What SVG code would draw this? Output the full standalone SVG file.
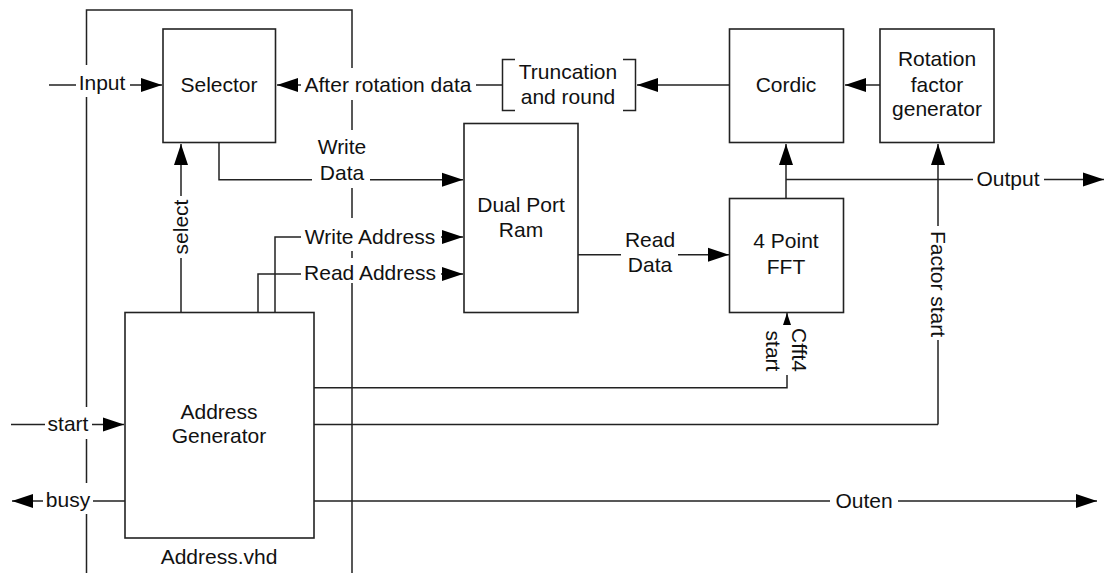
<svg xmlns="http://www.w3.org/2000/svg" width="1104" height="573" viewBox="0 0 1104 573">
<style>
text{font-family:"Liberation Sans",Arial,sans-serif;font-size:21px;fill:#111;text-anchor:middle}
.l{fill:none;stroke:#222;stroke-width:1.5}
.b{fill:#fff;stroke:#222;stroke-width:1.6}
.a{marker-end:url(#ah)}
</style>
<defs>
<marker id="ah" markerUnits="userSpaceOnUse" markerWidth="22" markerHeight="16" refX="21" refY="8" orient="auto"><path d="M0 1 L21 8 L0 15Z" fill="#000"/></marker>
<marker id="as" markerUnits="userSpaceOnUse" markerWidth="13" markerHeight="10" refX="12" refY="5" orient="auto"><path d="M0 1 L12 5 L0 9Z" fill="#000"/></marker>
</defs>
<rect width="1104" height="573" fill="#fff"/>
<g id="frame" class="l"><path d="M86.500 65V10H352V68M352 100V130M352 188V218M352 251V258M352 283V573M86.500 97V407M86.500 439V483M86.500 514V573"/></g>
<g id="connectors" class="l">
<path d="M49 85H76M130 85H162" class="a"/>
<path d="M502 85H476M301 85H277" class="a"/>
<path d="M730 85H637" class="a"/>
<path d="M880 85H845" class="a"/>
<path d="M219 142.500V179.700H312M370 179.700H463" class="a"/>
<path d="M181 312V258M181 196V144" class="a"/>
<path d="M275 312V237H301M441 237H463" class="a"/>
<path d="M258 312V274H301M441 274H463" class="a"/>
<path d="M578 254.700H621M678 254.700H729" class="a"/>
<path d="M786 198.500V144" class="a"/>
<path d="M786 179.500H973M1044 179.500H1104" class="a"/>
<path d="M938 424.500V340M938 226V144" class="a"/>
<path d="M314 387.700H787V375"/>
<path d="M787 325V313" style="marker-end:url(#as)"/>
<path d="M314 424.500H938"/>
<path d="M11 424.500H45M92 424.500H124" class="a"/>
<path d="M125 501H93M43 501H12" class="a"/>
<path d="M314 501H830M898 501H1097" class="a"/>
</g>
<g id="selector"><rect class="b" x="163" y="29" width="112.500" height="113.500"/><text x="219" y="92">Selector</text></g>
<g id="truncation"><path class="l" d="M515 59.500H502.500V110.500H515M623 59.500H635.500V110.500H623"/><text x="568" y="79">Truncation</text><text x="568" y="104">and round</text></g>
<g id="cordic"><rect class="b" x="729.500" y="29" width="114" height="113.500"/><text x="786" y="92">Cordic</text></g>
<g id="rotation"><rect class="b" x="880" y="29" width="114" height="113.500"/><text x="937" y="66">Rotation</text><text x="937" y="92">factor</text><text x="937" y="116">generator</text></g>
<g id="ram"><rect class="b" x="464" y="123.500" width="114" height="189"/><text x="521" y="212">Dual Port</text><text x="521" y="237">Ram</text></g>
<g id="fft"><rect class="b" x="729.500" y="198.500" width="114" height="114"/><text x="786" y="248">4 Point</text><text x="786" y="274">FFT</text></g>
<g id="address"><rect class="b" x="125" y="312.500" width="189" height="225.500"/><text x="219" y="419">Address</text><text x="219" y="443">Generator</text><text x="219" y="564">Address.vhd</text></g>
<g id="labels">
<text x="102" y="90">Input</text>
<text x="388" y="92">After rotation data</text>
<text x="342" y="154">Write</text><text x="342" y="180">Data</text>
<text x="370" y="244">Write Address</text>
<text x="370" y="280">Read Address</text>
<text x="650" y="247">Read</text><text x="650" y="272">Data</text>
<text x="1008" y="186">Output</text>
<text x="68" y="431">start</text>
<text x="68" y="507">busy</text>
<text x="864" y="508">Outen</text>
<text transform="translate(188 227) rotate(-90)">select</text>
<text transform="translate(930.500 284) rotate(90)">Factor start</text>
<text transform="translate(792 350) rotate(90)">Cfft4</text>
<text transform="translate(766 351) rotate(90)">start</text>
</g>
</svg>
